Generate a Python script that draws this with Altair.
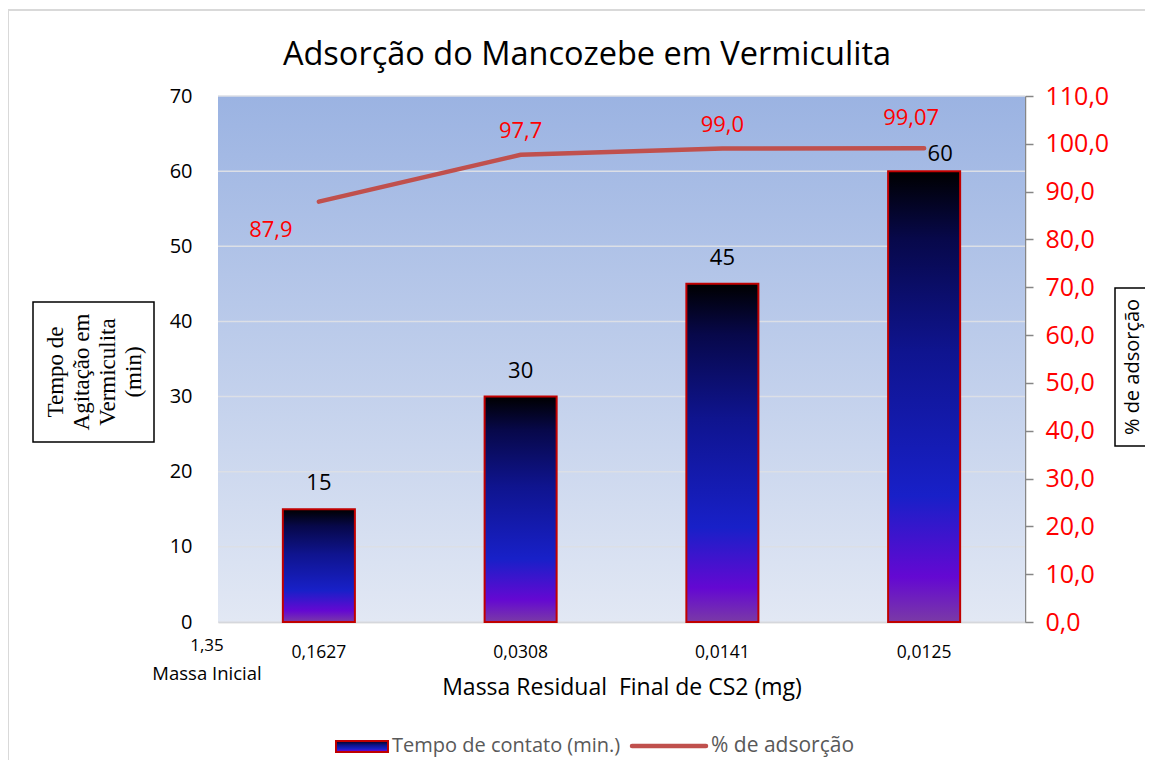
import altair as alt
import pandas as pd

# ---- data ----
massas = ["0,1627", "0,0308", "0,0141", "0,0125"]
tempo = [15, 30, 45, 60]
adsorcao = [87.9, 97.7, 99.0, 99.07]
adsorcao_rotulos = ["87,9", "97,7", "99,0", "99,07"]
tempo_ticks = [0, 10, 20, 30, 40, 50, 60, 70]
adsorcao_ticks = [0, 10, 20, 30, 40, 50, 60, 70, 80, 90, 100, 110]

titulo = "Adsorção do Mancozebe em Vermiculita"
titulo_x = "Massa Residual\u00a0 Final de CS2 (mg)"
titulo_y_esq = ["Tempo de", "Agitação em", "Vermiculita", "(min)"]
titulo_y_dir = "% de adsorção"
legenda_barras = "Tempo de contato (min.)"
legenda_linha = "% de adsorção"
massa_inicial = ["1,35", "Massa Inicial"]

df = pd.DataFrame({"massa": massas, "tempo": tempo, "ads": adsorcao, "ads_lbl": adsorcao_rotulos})
grid_df = pd.DataFrame({"tempo": tempo_ticks})

W, H = 807, 526
FONT = "Open Sans"

bar_grad = alt.LinearGradient(
    gradient="linear", x1=0, y1=0, x2=0, y2=1,
    stops=[
        alt.GradientStop(offset=0.0, color="#000000"),
        alt.GradientStop(offset=0.15, color="#07084a"),
        alt.GradientStop(offset=0.4, color="#0f148f"),
        alt.GradientStop(offset=0.72, color="#1820c8"),
        alt.GradientStop(offset=0.9, color="#6408d2"),
        alt.GradientStop(offset=1.0, color="#7a3aa6"),
    ],
)
bg_grad = alt.LinearGradient(
    gradient="linear", x1=0, y1=0, x2=0, y2=1,
    stops=[alt.GradientStop(offset=0, color="#9BB3E2"), alt.GradientStop(offset=1, color="#E2E8F4")],
)

x_enc = alt.X(
    "massa:N", sort=massas,
    scale=alt.Scale(paddingInner=0.643, paddingOuter=0.3215),
    axis=alt.Axis(
        title=titulo_x, labelAngle=0, labelFont=FONT, labelFontSize=17.5, labelColor="#000000",
        labelPadding=21, ticks=False, domain=True, domainColor="#BFBFBF", domainWidth=1.5,
        titleFont=FONT, titleFontSize=23, titleFontWeight="normal", titleColor="#000000",
        titlePadding=16, grid=False,
    ),
)

y_left = alt.Y(
    "tempo:Q",
    scale=alt.Scale(domain=[0, 70], nice=False),
    axis=alt.Axis(
        values=tempo_ticks, title=None, labelFont=FONT, labelFontSize=20, labelColor="#000000",
        labelPadding=26, ticks=False, domain=False, grid=False,
    ),
)

# ---- decorations helpers (positions relative to plot origin) ----
one = pd.DataFrame({"k": [0]})

def txt(t, x, y, size, color="#000000", font=FONT, angle=0, align="center", lh=None):
    kw = dict(font=font, fontSize=size, color=color, align=align, baseline="middle")
    if angle:
        kw["angle"] = angle
    if lh:
        kw["lineHeight"] = lh
    return alt.Chart(one).mark_text(text=t, **kw).encode(x=alt.value(x), y=alt.value(y))

def rect(x, y, x2, y2, **kw):
    return alt.Chart(one).mark_rect(**kw).encode(
        x=alt.value(x), y=alt.value(y), x2=alt.value(x2), y2=alt.value(y2)
    )

bg = rect(0, 0, W, H, fill=bg_grad)
grid = alt.Chart(grid_df).mark_rule(color="#DCDFE6", strokeWidth=1.5).encode(y=y_left)
bars = alt.Chart(df).mark_bar(color=bar_grad, stroke="#C00000", strokeWidth=2).encode(x=x_enc, y=y_left)
bar_txt = alt.Chart(df).transform_filter("datum.tempo < 60").mark_text(
    font=FONT, fontSize=22, color="#000000", dy=-26
).encode(x=x_enc, y=y_left, text="tempo:Q")
bar_txt60 = alt.Chart(df).transform_filter("datum.tempo == 60").mark_text(
    font=FONT, fontSize=22, color="#000000", dy=-17, dx=16
).encode(x=x_enc, y=y_left, text="tempo:Q")
left = alt.layer(grid, bars, bar_txt, bar_txt60)

y_right = alt.Y(
    "ads:Q",
    scale=alt.Scale(domain=[0, 110], nice=False),
    axis=alt.Axis(
        orient="right", values=adsorcao_ticks, title=None,
        labelExpr="replace(format(datum.value, '.1f'), '.', ',')",
        labelFont=FONT, labelFontSize=25, labelColor="#FF0000", labelPadding=12,
        ticks=True, tickSize=8, tickColor="#868686", tickWidth=1.5,
        domain=True, domainColor="#868686", domainWidth=1.5, grid=False,
    ),
)

line = alt.Chart(df).mark_line(color="#C0504D", strokeWidth=4.5, strokeCap="round").encode(
    x=x_enc, y=y_right
)
line_txt0 = alt.Chart(df).transform_filter("datum.ads < 90").mark_text(
    font=FONT, fontSize=22, color="#FF0000", dx=-48, dy=28
).encode(x=x_enc, y=y_right, text="ads_lbl:N")
line_txt = alt.Chart(df).transform_filter("datum.ads > 90 && datum.ads < 99.05").mark_text(
    font=FONT, fontSize=22, color="#FF0000", dy=-24
).encode(x=x_enc, y=y_right, text="ads_lbl:N")
line_txt3 = alt.Chart(df).transform_filter("datum.ads > 99.05").mark_text(
    font=FONT, fontSize=22, color="#FF0000", dy=-30, dx=-13
).encode(x=x_enc, y=y_right, text="ads_lbl:N")
right = alt.layer(line, line_txt0, line_txt, line_txt3)

border = rect(-210, -86, 960, 700, fill="transparent", stroke="#D9D9D9", strokeWidth=2)
title = txt(titulo, 369, -41, 32.5)
box_l = rect(-185, 206, -64, 346, fill="white", stroke="#000000", strokeWidth=1.5)
title_l = txt(titulo_y_esq, -162, 276, 23, font="Liberation Serif", angle=270, lh=26)
box_r = rect(897, 192, 940, 350, fill="white", stroke="#000000", strokeWidth=1.5)
title_r = txt(titulo_y_dir, 915, 271, 20, angle=270)
mi1 = txt(massa_inicial[0], -11, 550, 17)
mi2 = txt(massa_inicial[1], -11, 578, 18.5)
leg_rect = rect(118, 645, 170, 656, fill=bar_grad, stroke="#C00000", strokeWidth=2)
leg_t1 = txt(legenda_barras, 174, 650, 20, color="#595959", align="left")
leg_line = alt.Chart(one).mark_rule(color="#C0504D", strokeWidth=4.5, strokeCap="round").encode(
    x=alt.value(414), x2=alt.value(488), y=alt.value(650)
)
leg_t2 = txt(legenda_linha, 493, 650, 21, color="#595959", align="left")

chart = alt.layer(
    border, bg, left, right, title, box_l, title_l, box_r, title_r, mi1, mi2,
    leg_rect, leg_t1, leg_line, leg_t2,
).resolve_scale(y="independent").properties(
    width=W, height=H,
    autosize=alt.AutoSizeParams(type="none"),
    padding={"left": 210, "top": 88, "right": 120, "bottom": 138},
    background="white",
).configure_view(strokeWidth=0)

chart.save("out.html", embed_options={"renderer": "svg", "actions": False})
